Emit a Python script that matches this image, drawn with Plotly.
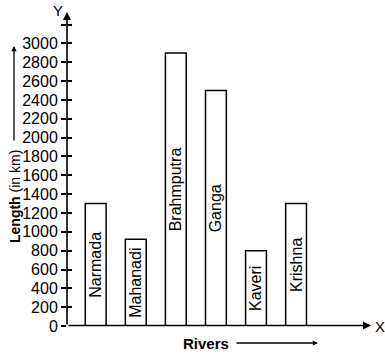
import plotly.graph_objects as go

rivers = ["Narmada", "Mahanadi", "Brahmputra", "Ganga", "Kaveri", "Krishna"]
lengths = [1300, 920, 2900, 2500, 800, 1300]
tick_vals = list(range(0, 3400, 200))
tick_text = [str(v) if v <= 3000 else "" for v in tick_vals]

W, H = 385, 354
L, R, T, B = 67, 15, 12, 28
pw, ph = W - L - R, H - T - B

def px(xp):
    return (xp - L) / pw

def py(yp):
    return (H - B - yp) / ph

fig = go.Figure()
fig.add_trace(go.Bar(
    x=rivers, y=lengths, width=0.52,
    marker=dict(color="white", line=dict(color="black", width=1.5)),
    text=rivers, textposition="inside", insidetextanchor="middle",
    textangle=-90, constraintext="none", cliponaxis=False,
    textfont=dict(family="Liberation Sans, Arial", size=16, color="black"),
    hoverinfo="skip", showlegend=False,
))
# invisible trace for second axis (inner tick marks)
fig.add_trace(go.Scatter(x=[rivers[0]], y=[0], yaxis="y2", mode="markers",
                         marker=dict(opacity=0), showlegend=False, hoverinfo="skip"))

yr = [0, ph / 0.09417]
fig.update_layout(
    width=W, height=H, margin=dict(l=L, r=R, t=T, b=B, pad=0),
    plot_bgcolor="white", paper_bgcolor="white",
    font=dict(family="Liberation Sans, Arial", color="black"),
    xaxis=dict(range=[-0.716, 6.845], showline=False, showgrid=False,
               zeroline=False, showticklabels=False, ticks=""),
    yaxis=dict(range=yr, tickvals=tick_vals, ticktext=tick_text,
               ticks="outside", ticklen=5, tickwidth=1.5, tickcolor="black",
               showgrid=False, zeroline=False, showline=False,
               tickfont=dict(size=16, family="Liberation Sans, Arial")),
    yaxis2=dict(range=yr, overlaying="y", side="left", tickvals=tick_vals,
                ticks="inside", ticklen=5, tickwidth=1.5, tickcolor="black",
                showticklabels=False, showgrid=False, zeroline=False, showline=False),
)

def label(xp, yp, text, size, angle=0):
    return dict(xref="paper", yref="paper", x=px(xp), y=py(yp), text=text,
                xanchor="center", yanchor="middle", textangle=angle,
                showarrow=False, font=dict(size=size))

def arrow(xp, yp, ax, ay, width, size):
    return dict(xref="paper", yref="paper", x=px(xp), y=py(yp), ax=ax, ay=ay,
                text="", showarrow=True, arrowhead=2, arrowsize=size,
                arrowwidth=width, arrowcolor="black")

ann = [
    arrow(67, 12, 0, 314, 1.6, 1),          # Y axis
    arrow(371, 325.5, -304, 0, 1.6, 1),     # X axis
    label(58, 11, "Y", 15),
    label(380, 326, "X", 15),
    label(15, 197, "<b>Length</b> (in km)", 14, -90),
    arrow(14, 46, 0, 96, 1.3, 0.8),
    label(206, 343, "<b>Rivers</b>", 15),
    arrow(318, 343, -83, 0, 1.3, 0.8),
]
fig.update_layout(annotations=ann)

fig.write_html("out.html")
